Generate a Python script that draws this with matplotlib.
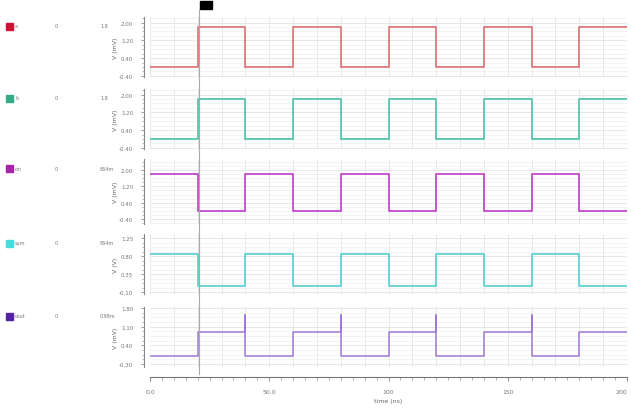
import matplotlib.pyplot as plt
import matplotlib.ticker as mtick

# signal names, cursor values and colours
names = ['a', 'b', 'cin', 'sum', 'cout']
cursor_vals = ['1.8', '1.8', '864m', '864m', '0.98m']
colors = ['#dd6f6f', '#4cc0a8', '#c03cc8', '#54cfd2', '#a078d8']
box_colors = ['#cc1133', '#33aa88', '#aa22aa', '#44dddd', '#5522aa']

# transition times (ns)
t = [0, 20, 40, 60, 80, 100, 120, 140, 160, 180, 200]
a = [0, 1.8, 0, 1.8, 0, 1.8, 0, 1.8, 0, 1.8]
b = [0, 1.8, 0, 1.8, 0, 1.8, 0, 1.8, 0, 1.8]
cin = [1.8, 0, 1.8, 0, 1.8, 0, 1.8, 0, 1.8, 0]
s = [0.85, 0.05, 0.85, 0.05, 0.85, 0.05, 0.85, 0.05, 0.85, 0.05]
# cout has a glitch at each falling edge
cout_t = [0, 20, 20, 40, 40, 40, 60, 60, 80, 80, 80, 100, 100, 120, 120, 120,
          140, 140, 160, 160, 160, 180, 180, 200]
cout_v = [0, 0, 0.9, 0.9, 1.55, 0, 0, 0.9, 0.9, 1.55, 0, 0, 0.9, 0.9, 1.55, 0,
          0, 0.9, 0.9, 1.55, 0, 0, 0.9, 0.9]

ylims = [(-0.45, 2.25), (-0.45, 2.25), (-0.63, 2.53), (-0.15, 1.35), (-0.41, 1.84)]
yticks = [[-0.4, 0.4, 1.2, 2.0], [-0.4, 0.4, 1.2, 2.0], [-0.4, 0.4, 1.2, 2.0],
          [-0.1, 0.35, 0.8, 1.25], [-0.3, 0.4, 1.1, 1.8]]
ylabels = ['V (mV)', 'V (mV)', 'V (mV)', 'V (V)', 'V (mV)']
xticks = [0, 50, 100, 150, 200]
xticklabels = ['0.0', '50.0', '100', '150', '200']
cursor_t = 20.5

# panel layout [top px, bottom px] of the 414 px figure
panels = [(18, 78), (90, 150), (160, 225), (235, 295), (308, 368)]
W, H = 631, 414

fig = plt.figure(figsize=(W / 100, H / 100), dpi=100)
axes = []
for i, (top, bot) in enumerate(panels):
    ax = fig.add_axes([150 / W, 1 - bot / H, 477 / W, (bot - top) / H])
    axes.append(ax)
    if names[i] == 'cout':
        ax.plot(cout_t, cout_v, color=colors[i], lw=1.1)
    else:
        vals = [a, b, cin, s][i]
        ax.step(t, vals + [vals[-1]], where='post', color=colors[i], lw=1.2)
    ax.set_xlim(0, 200)
    ax.set_ylim(*ylims[i])
    ax.set_yticks(yticks[i])
    ax.yaxis.set_major_formatter(mtick.FormatStrFormatter('%.2f'))
    ax.yaxis.set_minor_locator(mtick.AutoMinorLocator(4))
    ax.xaxis.set_major_locator(mtick.MultipleLocator(10))
    ax.grid(True, which='major', color='#e4e4e4', lw=0.6)
    ax.grid(True, which='minor', axis='y', color='#efefef', lw=0.5)
    for sp in ['top', 'right', 'bottom']:
        ax.spines[sp].set_visible(False)
    ax.spines['left'].set_color('#888888')
    ax.spines['left'].set_position(('outward', 4))
    ax.tick_params(axis='y', labelsize=4, colors='#777777', length=2, width=0.5, pad=6)
    ax.tick_params(axis='y', which='minor', length=1.2, width=0.4, colors='#888888')
    ax.tick_params(axis='x', bottom=False, labelbottom=False)
    ax.set_ylabel(ylabels[i], fontsize=4.5, color='#666666', labelpad=1)
    ax.axvline(cursor_t, color='#aaaaaa', lw=0.8)

    yc = 1 - (top + (bot - top) * 0.15) / H
    fig.patches.append(plt.Rectangle((6 / W, yc - 3.5 / H), 7 / W, 7 / H,
                                     transform=fig.transFigure, color=box_colors[i]))
    fig.text(15 / W, yc, names[i], fontsize=3.5, va='center', color='#777777')
    fig.text(55 / W, yc, '0', fontsize=3.5, va='center', color='#777777')
    fig.text(100 / W, yc, cursor_vals[i], fontsize=3.5, va='center', color='#777777')

# shared time axis below the last panel
ax = axes[-1]
ax.spines['bottom'].set_visible(True)
ax.spines['bottom'].set_position(('outward', 7))
ax.spines['bottom'].set_color('#777777')
ax.xaxis.set_major_locator(mtick.FixedLocator(xticks))
ax.xaxis.set_major_formatter(mtick.FixedFormatter(xticklabels))
ax.xaxis.set_minor_locator(mtick.MultipleLocator(5))
ax.tick_params(axis='x', which='both', bottom=True, labelbottom=True, colors='#777777',
               labelsize=4.5, length=3, width=0.6, pad=6)
ax.tick_params(axis='x', which='minor', length=2, width=0.4)
ax.grid(False, axis='x', which='both')
for x in range(10, 200, 10):
    ax.axvline(x, color='#e4e4e4', lw=0.6, zorder=0)
ax.set_xlabel('time (ns)', fontsize=4.5, color='#666666', labelpad=3)
fig.canvas.draw()
ax.get_xticklabels()[-1].set_horizontalalignment('right')

# cursor marker and line through the whole stack
fig.add_artist(plt.Line2D([199 / W, 199 / W], [1 - 10 / H, 1 - 375 / H],
                          color='#aaaaaa', lw=0.8))
fig.patches.append(plt.Rectangle((200 / W, 1 - 10 / H), 12 / W, 8 / H,
                                 transform=fig.transFigure, color='black'))

plt.savefig('out.png')
